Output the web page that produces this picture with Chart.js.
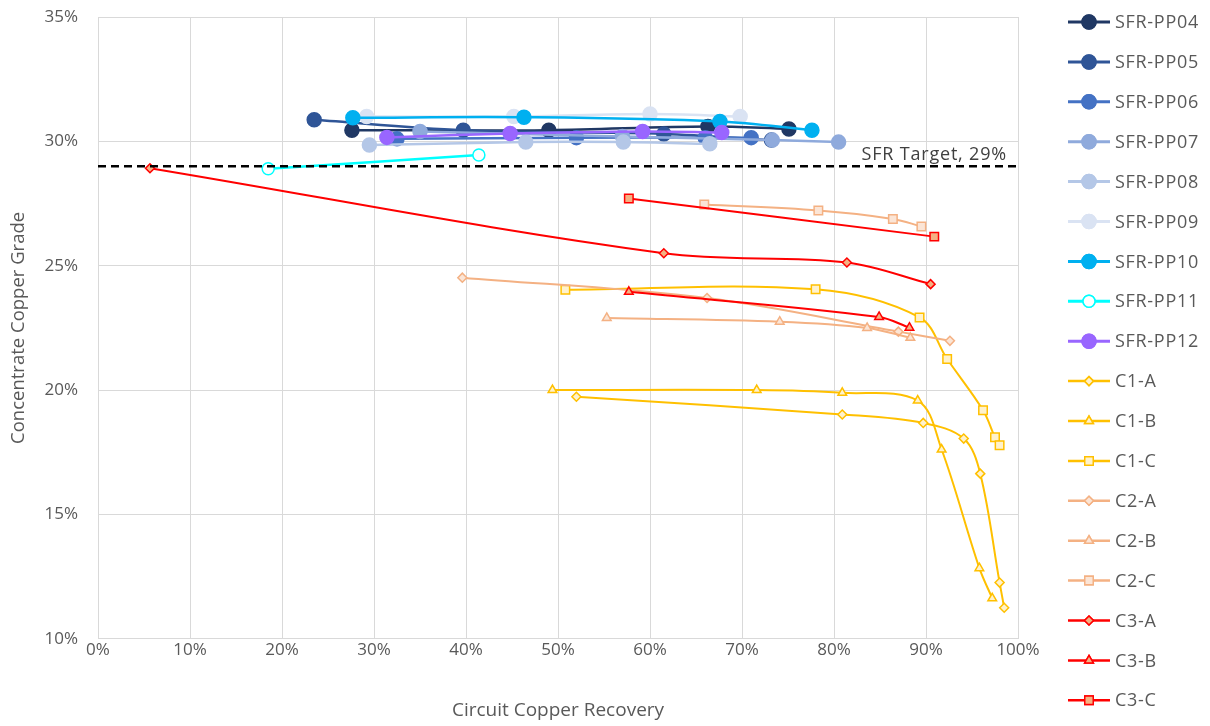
<!DOCTYPE html>
<html>
<head>
<meta charset="utf-8">
<script src="https://cdn.jsdelivr.net/npm/chart.js@4.4.1/dist/chart.umd.min.js"></script>
<style>
  html, body { margin: 0; padding: 0; background: #ffffff; }
  #wrap { width: 1210px; height: 726px; position: relative; }
</style>
</head>
<body>
<div id="wrap"><canvas id="chart" width="1210" height="726"></canvas></div>
<script>
// Circuit copper recovery (%) vs concentrate copper grade (%)
const xTicks = [0, 10, 20, 30, 40, 50, 60, 70, 80, 90, 100];
const yTicks = [10, 15, 20, 25, 30, 35];
const sfrTarget = 29;

const seriesNames = ['SFR-PP04','SFR-PP05','SFR-PP06','SFR-PP07','SFR-PP08','SFR-PP09','SFR-PP10','SFR-PP11','SFR-PP12',
                     'C1-A','C1-B','C1-C','C2-A','C2-B','C2-C','C3-A','C3-B','C3-C'];

const pp04Recovery = [27.6, 49.0, 66.3, 75.1];
const pp04Grade    = [30.45, 30.45, 30.6, 30.5];
const pp05Recovery = [23.5, 39.7, 61.5, 73.2];
const pp05Grade    = [30.87, 30.45, 30.3, 30.05];
const pp06Recovery = [32.5, 52.0, 66.0, 71.0];
const pp06Grade    = [30.1, 30.15, 30.15, 30.15];
const pp07Recovery = [35.0, 57.0, 73.3, 80.5];
const pp07Grade    = [30.4, 30.2, 30.05, 29.97];
const pp08Recovery = [29.5, 46.5, 57.1, 66.5];
const pp08Grade    = [29.85, 29.97, 29.97, 29.9];
const pp09Recovery = [29.2, 45.2, 60.0, 69.8];
const pp09Grade    = [31.0, 31.0, 31.1, 31.0];
const pp10Recovery = [27.7, 46.3, 67.6, 77.6];
const pp10Grade    = [30.95, 30.97, 30.8, 30.45];
const pp11Recovery = [18.5, 41.4];
const pp11Grade    = [28.9, 29.45];
const pp12Recovery = [31.4, 44.8, 59.2, 67.8];
const pp12Grade    = [30.16, 30.32, 30.4, 30.36];

const c1aRecovery = [52.0, 80.9, 89.7, 94.1, 95.9, 98.0, 98.5];
const c1aGrade    = [19.73, 19.02, 18.68, 18.05, 16.64, 12.26, 11.25];
const c1bRecovery = [49.4, 71.6, 80.9, 89.1, 91.7, 95.8, 97.2];
const c1bGrade    = [20.0, 20.0, 19.89, 19.58, 17.61, 12.84, 11.63];
const c1cRecovery = [50.8, 78.0, 89.3, 92.3, 96.2, 97.5, 98.0];
const c1cGrade    = [24.03, 24.05, 22.92, 21.25, 19.19, 18.1, 17.78];
const c2aRecovery = [39.6, 66.2, 87.0, 92.6];
const c2aGrade    = [24.52, 23.7, 22.35, 21.98];
const c2bRecovery = [55.3, 74.1, 83.6, 88.3];
const c2bGrade    = [22.9, 22.75, 22.5, 22.1];
const c2cRecovery = [65.9, 78.3, 86.4, 89.5];
const c2cGrade    = [27.46, 27.22, 26.88, 26.58];
const c3aRecovery = [5.65, 61.5, 81.4, 90.5];
const c3aGrade    = [28.92, 25.5, 25.13, 24.26];
const c3bRecovery = [57.7, 84.9, 88.2];
const c3bGrade    = [23.95, 22.94, 22.51];
const c3cRecovery = [57.7, 90.9];
const c3cGrade    = [27.7, 26.17];

const recoveries = [pp04Recovery, pp05Recovery, pp06Recovery, pp07Recovery, pp08Recovery, pp09Recovery, pp10Recovery, pp11Recovery, pp12Recovery,
                    c1aRecovery, c1bRecovery, c1cRecovery, c2aRecovery, c2bRecovery, c2cRecovery, c3aRecovery, c3bRecovery, c3cRecovery];
const grades = [pp04Grade, pp05Grade, pp06Grade, pp07Grade, pp08Grade, pp09Grade, pp10Grade, pp11Grade, pp12Grade,
                c1aGrade, c1bGrade, c1cGrade, c2aGrade, c2bGrade, c2cGrade, c3aGrade, c3bGrade, c3cGrade];

// Styles per series: line colour, marker shape, marker fill, marker radius, line width
const styles = [
  { c: '#203864', s: 'circle', f: '#203864', r: 7, w: 2.5 },
  { c: '#2F5597', s: 'circle', f: '#2F5597', r: 7, w: 2.5 },
  { c: '#4472C4', s: 'circle', f: '#4472C4', r: 7, w: 2.5 },
  { c: '#8FAADC', s: 'circle', f: '#8FAADC', r: 7, w: 2.5 },
  { c: '#B4C7E7', s: 'circle', f: '#B4C7E7', r: 7, w: 2.5 },
  { c: '#DAE3F3', s: 'circle', f: '#DAE3F3', r: 7, w: 2.5 },
  { c: '#00B0F0', s: 'circle', f: '#00B0F0', r: 7, w: 2.5 },
  { c: '#00FFFF', s: 'circle', f: '#ffffff', r: 6, w: 2.5 },
  { c: '#9966FF', s: 'circle', f: '#9966FF', r: 7, w: 2.5 },
  { c: '#FFC000', s: 'rectRot', f: '#FFF2CC', r: 4.5, w: 2 },
  { c: '#FFC000', s: 'triangle', f: '#FFF2CC', r: 5, w: 2 },
  { c: '#FFC000', s: 'rect', f: '#FFF2CC', r: 6, w: 2 },
  { c: '#F4B183', s: 'rectRot', f: '#FBE5D6', r: 4.5, w: 2 },
  { c: '#F4B183', s: 'triangle', f: '#FBE5D6', r: 5, w: 2 },
  { c: '#F4B183', s: 'rect', f: '#FBE5D6', r: 6, w: 2 },
  { c: '#FF0000', s: 'rectRot', f: '#F4B183', r: 4.5, w: 2 },
  { c: '#FF0000', s: 'triangle', f: '#F4B183', r: 5, w: 2 },
  { c: '#FF0000', s: 'rect', f: '#F4B183', r: 6, w: 2 }
];

const FONT = '"Open Sans", "Noto Sans", "Liberation Sans", sans-serif';
const TEXT = '#595959';

const datasets = seriesNames.map((name, i) => ({
  label: name,
  data: recoveries[i].map((x, k) => ({ x: x, y: grades[i][k] })),
  showLine: true,
  borderColor: styles[i].c,
  borderWidth: styles[i].w,
  backgroundColor: styles[i].f,
  pointStyle: styles[i].s,
  pointRadius: styles[i].r,
  pointBorderColor: styles[i].c,
  pointBackgroundColor: styles[i].f,
  pointBorderWidth: 1.5,
  tension: 0.35,
  order: 100 - i
}));

// SFR target reference line
datasets.push({
  label: 'SFR Target',
  data: [{ x: 0, y: sfrTarget }, { x: 100, y: sfrTarget }],
  showLine: true,
  borderColor: '#000000',
  borderWidth: 2.5,
  borderDash: [8, 5],
  pointRadius: 0,
  tension: 0,
  order: 0
});

const extrasPlugin = {
  id: 'extras',
  afterDatasetsDraw(chart) {
    const ctx = chart.ctx;
    const xs = chart.scales.x, ys = chart.scales.y;
    ctx.save();
    ctx.font = '18px ' + FONT;
    ctx.letterSpacing = '0.8px';
    ctx.fillStyle = '#404040';
    ctx.textAlign = 'left';
    ctx.textBaseline = 'alphabetic';
    ctx.fillText('SFR Target, ' + sfrTarget + '%', xs.getPixelForValue(83.0), ys.getPixelForValue(sfrTarget) - 6);
    ctx.restore();
  },
  afterDraw(chart) {
    const ctx = chart.ctx;
    ctx.save();
    const x0 = 1068, x1 = 1110, top = 22, step = 39.9;
    seriesNames.forEach((name, i) => {
      const y = top + i * step;
      const st = styles[i];
      ctx.strokeStyle = st.c;
      ctx.lineWidth = st.w + 0.5;
      ctx.setLineDash([]);
      ctx.beginPath();
      ctx.moveTo(x0, y);
      ctx.lineTo(x1, y);
      ctx.stroke();
      ctx.fillStyle = st.f;
      ctx.strokeStyle = st.c;
      ctx.lineWidth = 1.5;
      Chart.helpers.drawPoint(ctx, { pointStyle: st.s, radius: st.r, rotation: 0, borderWidth: 1.5 }, (x0 + x1) / 2, y);
      ctx.fill();
      ctx.stroke();
      ctx.fillStyle = TEXT;
      ctx.font = '18px ' + FONT;
      ctx.letterSpacing = '0.7px';
      ctx.textAlign = 'left';
      ctx.textBaseline = 'middle';
      ctx.fillText(name, 1115, y + 1);
    });
    ctx.restore();
  }
};

new Chart(document.getElementById('chart'), {
  type: 'scatter',
  data: { datasets },
  plugins: [extrasPlugin],
  options: {
    responsive: false,
    animation: false,
    layout: { padding: { left: 8, right: 192, top: 17, bottom: 4 } },
    plugins: { legend: { display: false }, tooltip: { enabled: false } },
    scales: {
      x: {
        type: 'linear', min: 0, max: 100,
        afterBuildTicks: (s) => { s.ticks = xTicks.map(v => ({ value: v })); },
        grid: { color: '#D9D9D9', drawTicks: false, lineWidth: 1 },
        border: { display: false },
        ticks: { padding: 1, color: TEXT, font: { family: FONT, size: 17 }, callback: v => v + '%' },
        title: { display: true, text: 'Circuit Copper Recovery', color: TEXT, font: { family: FONT, size: 19 }, padding: { top: 38, bottom: 0 } }
      },
      y: {
        type: 'linear', min: 10, max: 35,
        afterBuildTicks: (s) => { s.ticks = yTicks.map(v => ({ value: v })); },
        afterFit: (s) => { s.width = 90; },
        grid: { color: '#D9D9D9', drawTicks: true, tickLength: 17, tickColor: 'rgba(0,0,0,0)', lineWidth: 1 },
        border: { display: false },
        ticks: { padding: 3, color: TEXT, font: { family: FONT, size: 17 }, callback: v => v + '%' },
        title: { display: true, text: 'Concentrate Copper Grade', color: TEXT, font: { family: FONT, size: 18.5 }, padding: { top: 0, bottom: 0 } }
      }
    }
  }
});
</script>
</body>
</html>
